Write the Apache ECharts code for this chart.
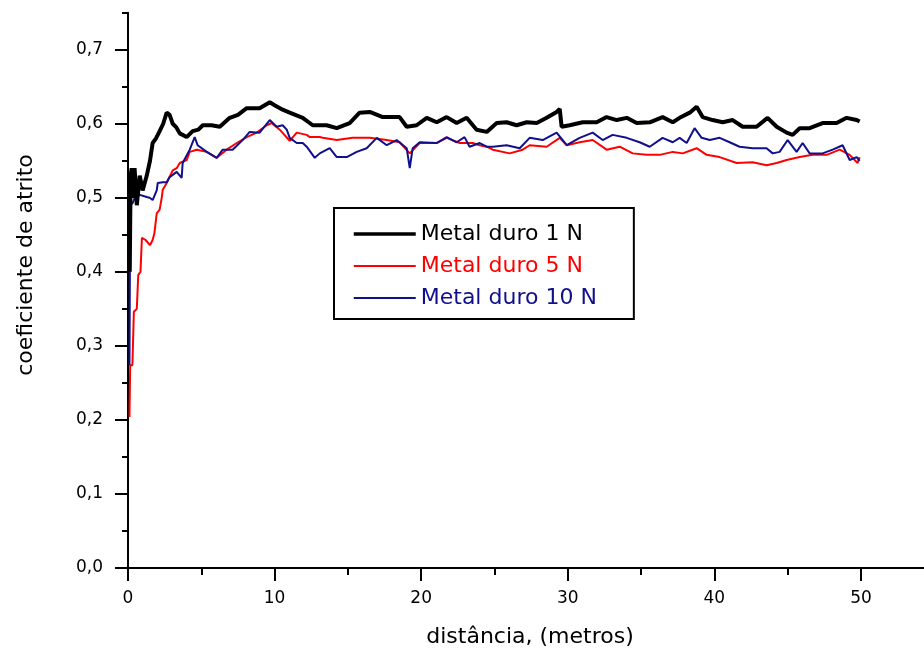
<!DOCTYPE html>
<html><head><meta charset="utf-8">
<script src="https://cdn.jsdelivr.net/npm/echarts@6/dist/echarts.min.js"></script>
<style>html,body{margin:0;padding:0;background:#fff}#c{width:924px;height:652px}</style>
</head><body><div id="c"></div>
<script>
const seriesNames = ['Metal duro 1 N', 'Metal duro 5 N', 'Metal duro 10 N'];
const xTickValues = [0, 10, 20, 30, 40, 50];
const xMinorTickValues = [5, 15, 25, 35, 45];
const yTickValues = [0, 0.1, 0.2, 0.3, 0.4, 0.5, 0.6, 0.7];
const yMinorTickValues = [0.05, 0.15, 0.25, 0.35, 0.45, 0.55, 0.65, 0.75];
const xTitle = 'distância, (metros)';
const yTitle = 'coeficiente de atrito';

const dist1N = [0.12,0.18,0.25,0.32,0.45,0.6,0.8,1.0,1.28,1.5,1.68,1.9,2.16,2.4,2.64,2.84,3.05,3.3,3.53,4.0,4.41,4.8,5.1,5.7,6.26,6.94,7.5,8.1,8.98,9.67,10.0,10.55,11.03,11.92,12.6,13.55,14.24,15.12,15.8,16.49,17.38,18.53,19.01,19.69,20.38,21.06,21.74,22.42,23.1,23.78,24.47,25.15,25.83,26.51,27.2,27.88,28.56,29.24,29.45,29.58,30.13,31.02,31.97,32.65,33.34,34.02,34.7,35.59,36.47,37.16,37.63,38.32,38.79,39.2,39.88,40.57,41.25,41.93,42.88,43.63,44.25,44.93,45.34,45.82,46.5,47.38,48.34,49.02,49.71,49.91];
const coef1N = [0.40,0.53,0.54,0.50,0.54,0.49,0.53,0.51,0.53,0.55,0.574,0.58,0.59,0.60,0.615,0.612,0.60,0.595,0.587,0.582,0.59,0.592,0.598,0.598,0.596,0.608,0.612,0.621,0.621,0.629,0.625,0.619,0.615,0.608,0.598,0.598,0.594,0.601,0.615,0.616,0.609,0.609,0.596,0.598,0.608,0.602,0.609,0.601,0.608,0.592,0.589,0.601,0.602,0.598,0.602,0.601,0.608,0.616,0.62,0.596,0.598,0.602,0.602,0.609,0.605,0.608,0.601,0.602,0.609,0.602,0.608,0.615,0.623,0.609,0.605,0.602,0.605,0.596,0.596,0.608,0.596,0.588,0.585,0.594,0.594,0.601,0.601,0.608,0.605,0.603];

const dist5N = [0.1,0.15,0.3,0.4,0.6,0.7,0.85,0.95,1.2,1.5,1.68,1.8,1.96,2.16,2.3,2.37,2.64,3.05,3.32,3.53,4.0,4.21,4.69,5.37,6.05,6.73,7.42,8.1,8.78,9.46,9.8,10.35,11.03,11.51,12.19,12.4,13.08,13.28,14.24,15.33,16.49,17.65,18.53,19.22,19.9,21.06,21.74,22.62,23.51,23.99,24.47,24.88,26.04,26.92,27.4,28.56,29.45,29.93,30.81,31.7,32.65,33.54,34.43,35.38,36.27,37.16,37.84,38.79,39.47,40.36,41.52,42.61,43.56,44.25,44.93,45.82,46.7,47.66,48.55,49.23,49.77,49.91];
const coef5N = [0.204,0.274,0.274,0.346,0.35,0.396,0.40,0.446,0.443,0.436,0.443,0.452,0.479,0.484,0.50,0.511,0.52,0.537,0.54,0.547,0.551,0.562,0.565,0.562,0.554,0.565,0.574,0.582,0.588,0.598,0.601,0.592,0.577,0.588,0.585,0.582,0.582,0.581,0.578,0.581,0.581,0.578,0.575,0.56,0.574,0.574,0.581,0.574,0.574,0.571,0.569,0.565,0.56,0.565,0.571,0.569,0.581,0.571,0.575,0.578,0.565,0.569,0.56,0.558,0.558,0.562,0.56,0.567,0.558,0.555,0.547,0.548,0.544,0.547,0.551,0.555,0.558,0.558,0.565,0.558,0.547,0.555];

const dist10N = [0.1,0.15,0.32,0.46,0.8,1.28,1.48,1.68,1.96,2.03,2.37,2.64,2.84,3.05,3.32,3.66,3.73,4.21,4.55,4.75,5.37,6.05,6.46,7.14,7.82,8.3,8.98,9.67,10.14,10.55,10.83,11.03,11.51,11.92,12.19,12.74,13.08,13.76,14.24,14.92,15.6,16.28,16.97,17.65,18.33,19.01,19.22,19.42,19.9,21.06,21.74,22.42,22.96,23.3,23.99,24.47,24.88,25.83,26.72,27.4,28.29,29.24,29.93,30.81,31.7,32.38,33.06,34.02,34.9,35.59,36.47,37.16,37.63,38.11,38.65,39.13,39.68,40.36,41.04,41.72,42.61,43.56,43.98,44.45,45.0,45.61,46.02,46.5,47.38,48.07,48.75,49.23,49.71,49.91];
const coef10N = [0.274,0.49,0.493,0.50,0.504,0.501,0.50,0.497,0.51,0.52,0.521,0.521,0.528,0.531,0.535,0.527,0.547,0.565,0.582,0.571,0.562,0.554,0.565,0.565,0.578,0.589,0.588,0.605,0.596,0.598,0.592,0.581,0.574,0.574,0.569,0.554,0.56,0.567,0.555,0.555,0.562,0.567,0.581,0.571,0.578,0.567,0.54,0.567,0.575,0.574,0.582,0.575,0.582,0.569,0.574,0.569,0.569,0.571,0.567,0.581,0.578,0.588,0.571,0.581,0.588,0.578,0.585,0.581,0.575,0.569,0.581,0.575,0.581,0.574,0.594,0.581,0.578,0.581,0.575,0.569,0.567,0.567,0.56,0.562,0.578,0.562,0.574,0.56,0.56,0.565,0.571,0.551,0.555,0.55];

const colors = ['#000000', '#ff0000', '#10108c'];
const lineWidths = [4, 2, 2];
const FONT = 'DejaVu Sans';

function pairs(xs, ys) { return xs.map((x, i) => [x, ys[i]]); }

const chart = echarts.init(document.getElementById('c'), null, { renderer: 'canvas' });

const axisLineStyle = { show: true, lineStyle: { color: '#000', width: 2 } };

chart.setOption({
  animation: false,
  backgroundColor: '#fff',
  grid: { left: 128, right: 0, top: 12.7, bottom: 84, containLabel: false },
  xAxis: [
    {
      type: 'value', min: 0, max: 54.3, interval: 10,
      axisLine: axisLineStyle,
      axisTick: { show: true, length: 13, customValues: xTickValues, lineStyle: { color: '#000', width: 2 } },
      axisLabel: { show: true, customValues: xTickValues, margin: 22, color: '#000', fontFamily: FONT, fontSize: 17,
        formatter: v => String(v) },
      splitLine: { show: false }
    },
    {
      type: 'value', min: 0, max: 54.3, interval: 10, position: 'bottom',
      axisLine: { show: false },
      axisTick: { show: true, length: 7, customValues: xMinorTickValues, lineStyle: { color: '#000', width: 2 } },
      axisLabel: { show: false },
      splitLine: { show: false }
    }
  ],
  yAxis: [
    {
      type: 'value', min: 0, max: 0.75, interval: 0.1,
      axisLine: axisLineStyle,
      axisTick: { show: true, length: 13, customValues: yTickValues, lineStyle: { color: '#000', width: 2 } },
      axisLabel: { show: true, customValues: yTickValues, margin: 25, color: '#000', fontFamily: FONT, fontSize: 17,
        formatter: v => v.toFixed(1).replace('.', ',') },
      splitLine: { show: false }
    },
    {
      type: 'value', min: 0, max: 0.75, interval: 0.05, position: 'left',
      axisLine: { show: false },
      axisTick: { show: true, length: 6, customValues: yMinorTickValues, lineStyle: { color: '#000', width: 2 } },
      axisLabel: { show: false },
      splitLine: { show: false }
    }
  ],
  legend: {
    left: 334, top: 208,
    orient: 'vertical',
    itemWidth: 62, itemHeight: 14, itemGap: 10,
    padding: [15, 37, 10, 18],
    borderColor: '#000', borderWidth: 2,
    itemStyle: { opacity: 0 },
    textStyle: { fontFamily: FONT, fontSize: 22 },
    data: seriesNames.map((n, i) => ({ name: n, textStyle: { color: colors[i] },
      lineStyle: { width: lineWidths[i] === 4 ? 3.5 : 2, color: colors[i] } }))
  },
  graphic: [
    { type: 'text', x: 530, y: 626, style: { text: xTitle, font: '22px "DejaVu Sans"', fill: '#000', align: 'center' } },
    { type: 'text', x: 15, y: 265, rotation: Math.PI / 2,
      style: { text: yTitle, font: '22px "DejaVu Sans"', fill: '#000', align: 'center', verticalAlign: 'top' } }
  ],
  series: [
    { name: seriesNames[1], type: 'line', showSymbol: false, symbol: 'none', data: pairs(dist5N, coef5N),
      lineStyle: { color: colors[1], width: lineWidths[1] }, itemStyle: { color: colors[1] } },
    { name: seriesNames[2], type: 'line', showSymbol: false, symbol: 'none', data: pairs(dist10N, coef10N),
      lineStyle: { color: colors[2], width: lineWidths[2] }, itemStyle: { color: colors[2] } },
    { name: seriesNames[0], type: 'line', showSymbol: false, symbol: 'none', data: pairs(dist1N, coef1N),
      lineStyle: { color: colors[0], width: lineWidths[0] }, itemStyle: { color: colors[0] } }
  ]
});
</script></body></html>
